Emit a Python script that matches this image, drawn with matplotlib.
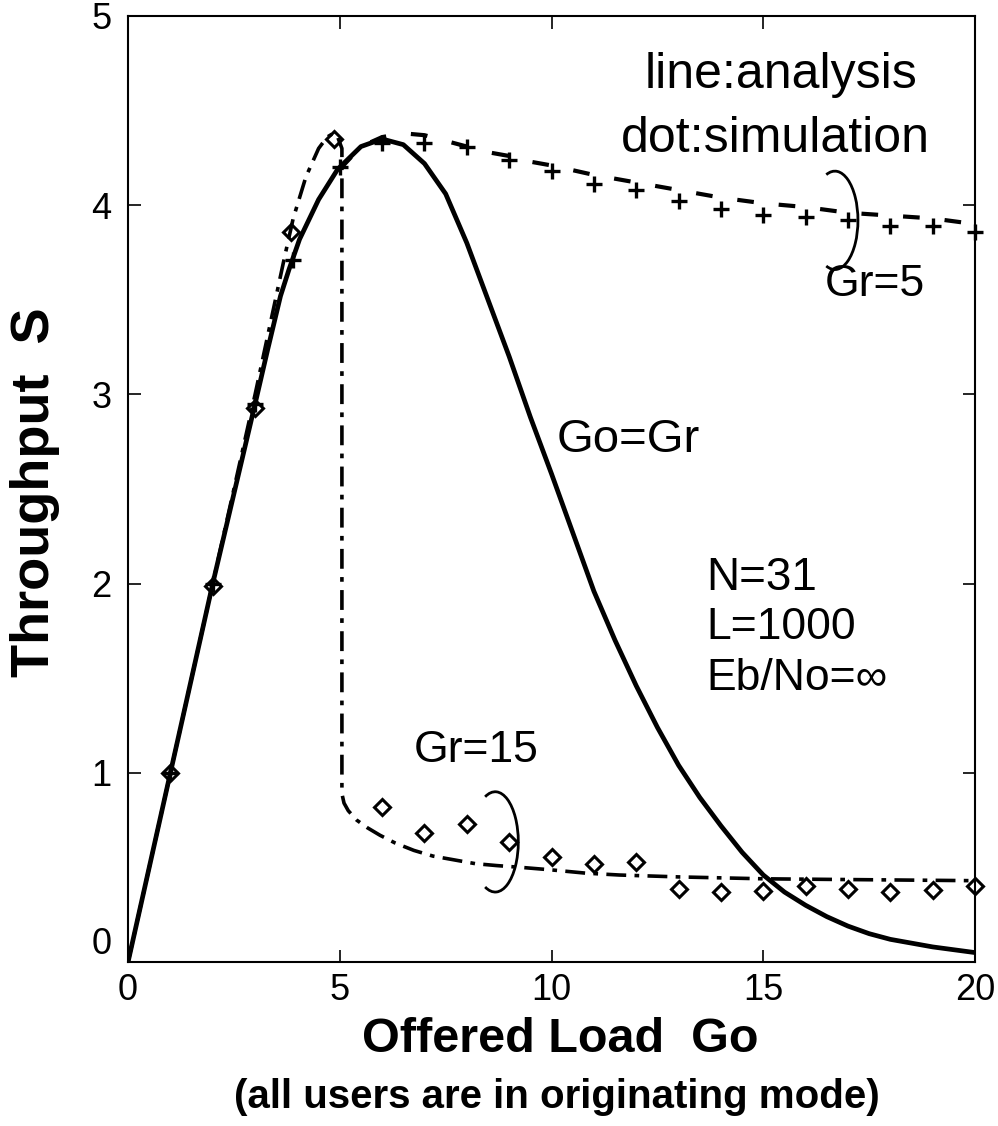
import matplotlib.pyplot as plt
from matplotlib.patches import Arc

plt.rcParams['font.family'] = ['Liberation Sans', 'DejaVu Sans']

# analysis, Go=Gr (solid line)
eq_x = [0, 1, 2, 3, 3.3, 3.6, 3.8, 4.05, 4.5, 4.95, 5.5, 6.0, 6.5, 7.0, 7.5, 8.0, 8.5, 9.0,
        9.5, 10.0, 10.5, 11.0, 11.5, 12.0, 12.5, 13.0, 13.5, 14.0, 14.5, 15.0, 15.5, 16.0,
        16.5, 17.0, 17.5, 18.0, 18.5, 19.0, 19.5, 20.0]
eq_y = [0, 1.0, 2.0, 2.95, 3.24, 3.52, 3.66, 3.82, 4.03, 4.19, 4.31, 4.35, 4.32, 4.22, 4.06,
        3.80, 3.50, 3.20, 2.88, 2.58, 2.27, 1.96, 1.70, 1.46, 1.24, 1.04, 0.87, 0.72, 0.58,
        0.46, 0.37, 0.30, 0.24, 0.19, 0.15, 0.12, 0.10, 0.08, 0.065, 0.05]

# analysis, Gr=5 (dashed, beyond Go=5)
gr5_x = [5, 5.5, 6, 6.5, 7, 7.5, 8, 8.5, 9, 9.5, 10, 11, 12, 13, 14, 15, 16, 17, 18, 19, 20]
gr5_y = [4.19, 4.31, 4.36, 4.38, 4.37, 4.34, 4.31, 4.28, 4.26, 4.23, 4.21, 4.16, 4.12, 4.08,
         4.04, 4.01, 3.99, 3.96, 3.945, 3.93, 3.90]

# analysis, Gr=15 (dash-dot)
gr15_x = [0, 1, 2, 3, 3.7, 3.9, 4.2, 4.5, 4.7, 4.85, 4.95, 5.05, 5.05, 5.1, 5.2, 5.4, 5.65,
          5.95, 6.3, 6.75, 7.2, 7.7, 8.2, 8.7, 9.3, 10.0, 10.8, 11.6, 13.0, 15.0, 20.0]
gr15_y = [0, 1.0, 2.0, 3.0, 3.73, 3.93, 4.15, 4.30, 4.36, 4.38, 4.36, 4.30, 0.89, 0.84, 0.80,
          0.75, 0.71, 0.67, 0.63, 0.59, 0.56, 0.54, 0.52, 0.51, 0.50, 0.487, 0.47, 0.46, 0.45,
          0.44, 0.43]

# simulation points
sim15_x = [1, 2, 3, 3.85, 4.87, 6, 7, 8, 9, 10, 11, 12, 13, 14, 15, 16, 17, 18, 19, 20]
sim15_y = [1.0, 1.99, 2.93, 3.86, 4.35, 0.82, 0.68, 0.73, 0.635, 0.555, 0.52, 0.53, 0.386,
           0.37, 0.376, 0.40, 0.386, 0.37, 0.38, 0.40]
sim5_x = [1, 2, 3, 3.9, 5, 6, 7, 8, 9, 10, 11, 12, 13, 14, 15, 16, 17, 18, 19, 20]
sim5_y = [1.0, 2.0, 2.95, 3.71, 4.20, 4.33, 4.33, 4.31, 4.24, 4.18, 4.11, 4.08, 4.02, 3.98,
          3.95, 3.94, 3.92, 3.89, 3.89, 3.86]

x_ticks = [0, 5, 10, 15, 20]
y_ticks = [0, 1, 2, 3, 4, 5]

fig = plt.figure(figsize=(9.98, 11.26), dpi=100)
ax = fig.add_axes([0.1283, 0.1456, 0.8487, 0.8402])

ax.plot(eq_x, eq_y, color='black', lw=3.4, solid_joinstyle='round')
ax.plot(gr5_x, gr5_y, color='black', lw=3, dashes=(4, 6))
ax.plot(gr15_x, gr15_y, color='black', lw=2.6, dashes=(5.5, 2.3, 1.3, 2.3))

ax.plot(sim15_x, sim15_y, ls='none', marker='D', ms=8.5, mfc='none', mec='black',
        mew=2.2, clip_on=False)
ax.plot(sim5_x, sim5_y, ls='none', marker='+', ms=11, mec='black', mew=2.4, clip_on=False)

# brackets around the two groups
ax.add_patch(Arc((16.69, 3.92), 1.09, 0.52, theta1=-130, theta2=130, color='black', lw=2))
ax.add_patch(Arc((8.67, 0.635), 1.09, 0.53, theta1=-135, theta2=135, color='black', lw=2))

ax.text(15.42, 4.69, 'line:analysis', fontsize=36, ha='center', va='center')
ax.text(15.28, 4.35, 'dot:simulation', fontsize=36, ha='center', va='center')
ax.text(17.64, 3.58, 'Gr=5', fontsize=32, ha='center', va='center')
ax.text(11.8, 2.76, 'Go=Gr', fontsize=34, ha='center', va='center')
ax.text(13.65, 2.03, 'N=31', fontsize=33, ha='left', va='center')
ax.text(13.65, 1.77, 'L=1000', fontsize=32, ha='left', va='center')
ax.text(13.65, 1.50, 'Eb/No=\u221e', fontsize=32, ha='left', va='center')
ax.text(8.22, 1.12, 'Gr=15', fontsize=32, ha='center', va='center')

ax.set_xlim(0, 20)
ax.set_ylim(0, 5)
ax.set_xticks(x_ticks)
ax.set_yticks(y_ticks)
ax.tick_params(direction='in', length=9, width=1.2, labelsize=26, top=True, right=True)
ax.tick_params(axis='x', pad=8)
ax.tick_params(axis='y', pad=12)
ax.get_yticklabels()[0].set_verticalalignment('bottom')
for s in ax.spines.values():
    s.set_linewidth(1.5)

fig.text(35 / 998, 1 - 492 / 1126, 'Throughput  S', rotation=90, fontsize=39,
         fontweight='bold', ha='center', va='center')
fig.text(560 / 998, 1 - 1040 / 1126, 'Offered Load  Go', fontsize=35,
         fontweight='bold', ha='center', va='center')
fig.text(557 / 998, 1 - 1097 / 1126, '(all users are in originating mode)', fontsize=29,
         fontweight='bold', ha='center', va='center')

fig.savefig('out.png', dpi=100)
